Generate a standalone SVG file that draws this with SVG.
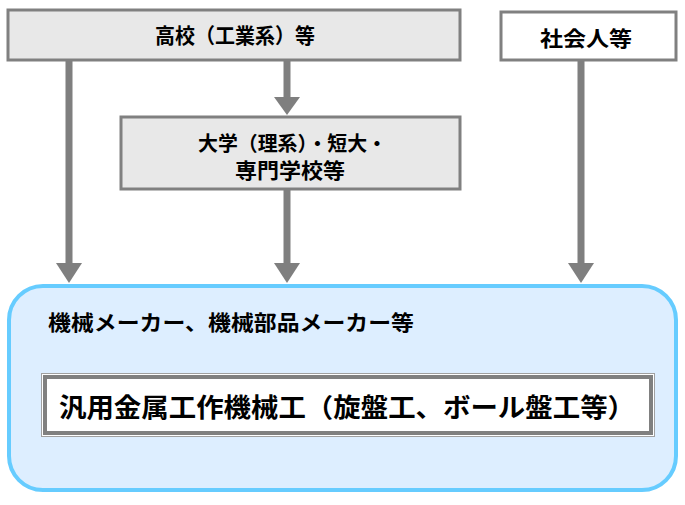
<svg xmlns="http://www.w3.org/2000/svg" width="685" height="505" viewBox="0 0 685 505">
<defs>
<style>
.box{fill:#e8e8e8;stroke:#808080;stroke-width:3}
.wbox{fill:#ffffff;stroke:#808080;stroke-width:3}
.t{font-family:"Liberation Sans","Noto Sans CJK JP",sans-serif;font-weight:bold;fill:#000}
.conn{stroke:#7f7f7f;stroke-width:7;fill:none}
.head{fill:#7f7f7f}
</style>
</defs>
<g id="edges">
<line class="conn" x1="69" y1="61" x2="69" y2="264"/>
<polygon class="head" points="56,263 82,263 69,283"/>
<line class="conn" x1="287" y1="61" x2="287" y2="99"/>
<polygon class="head" points="274,97 300,97 287,115"/>
<line class="conn" x1="287" y1="190" x2="287" y2="264"/>
<polygon class="head" points="274,263 300,263 287,283"/>
<line class="conn" x1="581" y1="61" x2="581" y2="264"/>
<polygon class="head" points="568,263 594,263 581,283"/>
</g>
<g id="maker">
<rect x="9" y="286" width="667" height="204" rx="34" ry="34" fill="#ddeeff" stroke="#66ccff" stroke-width="4"/>
<text class="t" x="48" y="330" font-size="21" textLength="366" lengthAdjust="spacingAndGlyphs">機械メーカー、機械部品メーカー等</text>
</g>
<g id="job">
<rect x="41.5" y="373.5" width="613" height="63" fill="#ffffff" stroke="#a0a0a0" stroke-width="1"/>
<rect x="45" y="377" width="606" height="56" fill="#ffffff" stroke="#808080" stroke-width="4"/>
<text class="t" x="59" y="417" font-size="26" textLength="576" lengthAdjust="spacingAndGlyphs">汎用金属工作機械工（旋盤工、ボール盤工等）</text>
</g>
<g id="highschool">
<rect class="box" x="8" y="10" width="452" height="50"/>
<text class="t" x="155" y="43" font-size="21" textLength="160" lengthAdjust="spacingAndGlyphs">高校（工業系）等</text>
</g>
<g id="adult">
<rect class="wbox" x="501" y="12" width="175" height="48"/>
<text class="t" x="540" y="46" font-size="21" textLength="92" lengthAdjust="spacingAndGlyphs">社会人等</text>
</g>
<g id="univ">
<rect class="box" x="121" y="117" width="339" height="72"/>
<text class="t" x="198" y="151" font-size="20" textLength="189" lengthAdjust="spacingAndGlyphs">大学（理系）・短大・</text>
<text class="t" x="235" y="178" font-size="21" textLength="110" lengthAdjust="spacingAndGlyphs">専門学校等</text>
</g>
</svg>
